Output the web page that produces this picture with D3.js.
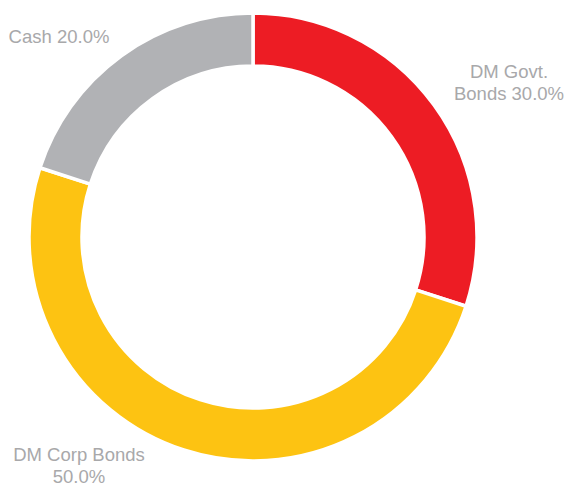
<!DOCTYPE html>
<html>
<head>
<meta charset="utf-8">
<script src="https://cdn.jsdelivr.net/npm/d3@7"></script>
<style>
  html, body { margin: 0; padding: 0; background: #ffffff; }
  svg { display: block; }
  .lbl { font-family: "Liberation Sans", Arial, sans-serif; font-size: 18.5px; fill: #a8a8aa; }
</style>
</head>
<body>
<svg id="chart" width="566" height="485"></svg>
<script>
// Portfolio allocation, clockwise from 12 o'clock
const categories = ["DM Govt. Bonds", "DM Corp Bonds", "Cash"];
const values = [30.0, 50.0, 20.0];
const colors = ["#ed1c24", "#fdc312", "#b1b2b5"];
// label lines (name split over lines, value appended to the last line)
const labelLines = [["DM Govt.", "Bonds"], ["DM Corp Bonds", ""], ["Cash"]];

// layout
const cx = 253, cy = 237, outerR = 224, innerR = 171;
// label anchor positions (first baseline), relative to the chart centre
const labelPos = [[256, -159], [-174, 224], [-194, -194]];
const lineHeight = 21.5;

const svg = d3.select("#chart");
const g = svg.append("g").attr("transform", `translate(${cx},${cy})`);

const data = categories.map((c, i) => ({ name: c, value: values[i], color: colors[i], lines: labelLines[i], pos: labelPos[i] }));

const pie = d3.pie().value(d => d.value).sort(null);
const arc = d3.arc().innerRadius(innerR).outerRadius(outerR);

g.selectAll("path.slice")
  .data(pie(data))
  .join("path")
  .attr("class", "slice")
  .attr("d", arc)
  .attr("fill", d => d.data.color)
  .attr("stroke", "#ffffff")
  .attr("stroke-width", 3.5);

const fmt = d3.format(".1f");
const labels = g.selectAll("text.lbl")
  .data(data)
  .join("text")
  .attr("class", "lbl")
  .attr("text-anchor", "middle")
  .attr("x", d => d.pos[0])
  .attr("y", d => d.pos[1]);

labels.each(function(d) {
  const t = d3.select(this);
  const lines = d.lines.slice();
  const last = lines.length - 1;
  lines[last] = (lines[last] ? lines[last] + " " : "") + fmt(d.value) + "%";
  lines.forEach((ln, i) => {
    t.append("tspan")
      .attr("x", d.pos[0])
      .attr("dy", i === 0 ? 0 : lineHeight)
      .text(ln);
  });
});
</script>
</body>
</html>
